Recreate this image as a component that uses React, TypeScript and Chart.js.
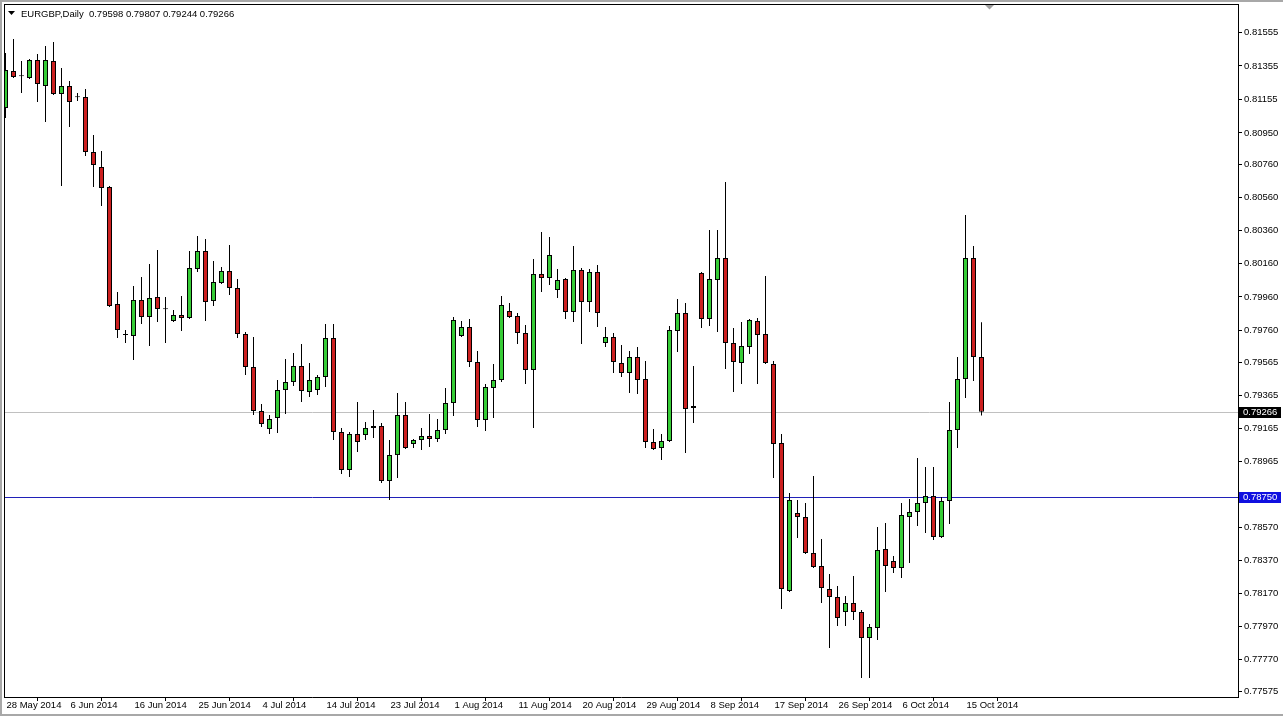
import React, { useEffect, useRef } from "react";
import { Chart, registerables } from "chart.js";

Chart.register(...registerables);

const SYMBOL = "EURGBP,Daily";

const OPEN = [
  0.81101, 0.81324, 0.81294, 0.81282, 0.81391, 0.81234, 0.81385, 0.81186, 0.81234, 0.81167,
  0.81167, 0.80835, 0.80745, 0.80624, 0.79917, 0.7973, 0.79724, 0.79942, 0.79839, 0.7996,
  0.79887, 0.79815, 0.79851, 0.79833, 0.80129, 0.80237, 0.79935, 0.80044, 0.80117, 0.80014,
  0.79736, 0.79537, 0.79271, 0.79162, 0.79229, 0.79398, 0.79446, 0.79543, 0.79386, 0.79398,
  0.79477, 0.79712, 0.79144, 0.78915, 0.79132, 0.79126, 0.79169, 0.79181, 0.78848, 0.79005,
  0.79247, 0.79072, 0.79096, 0.7912, 0.79102, 0.79156, 0.79319, 0.79724, 0.79778, 0.79567,
  0.79217, 0.7941, 0.79458, 0.79875, 0.79845, 0.79742, 0.79519, 0.80099, 0.80074, 0.80002,
  0.80068, 0.79869, 0.80123, 0.79929, 0.80111, 0.79682, 0.79718, 0.79561, 0.79501, 0.79597,
  0.79464, 0.79084, 0.79048, 0.7909, 0.79754, 0.79863, 0.79289, 0.80105, 0.79827, 0.80062,
  0.80195, 0.79682, 0.79561, 0.79658, 0.79815, 0.79736, 0.79555, 0.79078, 0.78184, 0.78655,
  0.78631, 0.78414, 0.78335, 0.78196, 0.78148, 0.78057, 0.78112, 0.78057, 0.779, 0.77961,
  0.78438, 0.78365, 0.78323, 0.78631, 0.78661, 0.78716, 0.78758, 0.7851, 0.78728, 0.79156,
  0.79464, 0.80195, 0.79598,
];

const HIGH = [
  0.81433, 0.81518, 0.81385, 0.81397, 0.81427, 0.81475, 0.815, 0.81343, 0.81264, 0.81192,
  0.81216, 0.80938, 0.80841, 0.8063, 0.7999, 0.7976, 0.80026, 0.8008, 0.80159, 0.80243,
  0.7996, 0.79881, 0.79966, 0.80237, 0.80328, 0.8031, 0.80177, 0.80141, 0.80274, 0.80068,
  0.79748, 0.79718, 0.79313, 0.79247, 0.79458, 0.79585, 0.79621, 0.79676, 0.79561, 0.79489,
  0.79797, 0.79797, 0.79169, 0.79144, 0.79326, 0.79205, 0.79277, 0.79199, 0.79096, 0.7938,
  0.79326, 0.79102, 0.79169, 0.79253, 0.79223, 0.7941, 0.79839, 0.79815, 0.79827, 0.79634,
  0.79434, 0.79555, 0.79966, 0.79923, 0.79863, 0.79791, 0.80189, 0.80352, 0.80322, 0.80129,
  0.80074, 0.80268, 0.80135, 0.80129, 0.80153, 0.79778, 0.79742, 0.7967, 0.79634, 0.79658,
  0.79573, 0.79162, 0.79132, 0.79784, 0.79948, 0.79923, 0.79543, 0.80111, 0.80364, 0.80364,
  0.80654, 0.79772, 0.79809, 0.79827, 0.79833, 0.80086, 0.79573, 0.79132, 0.78776, 0.78734,
  0.78716, 0.78879, 0.78498, 0.78287, 0.78214, 0.78154, 0.78275, 0.78069, 0.77985, 0.78571,
  0.78595, 0.78396, 0.78716, 0.7874, 0.78987, 0.78933, 0.78933, 0.78752, 0.79326, 0.79597,
  0.80455, 0.80268, 0.79807,
];

const LOW = [
  0.81041, 0.81282, 0.81192, 0.81276, 0.81137, 0.81016, 0.8118, 0.8063, 0.80986, 0.81143,
  0.80811, 0.80624, 0.80509, 0.79899, 0.79712, 0.79682, 0.79579, 0.79797, 0.79664, 0.79809,
  0.79682, 0.79809, 0.79754, 0.79827, 0.80111, 0.79815, 0.79905, 0.80038, 0.79972, 0.79712,
  0.79489, 0.79247, 0.79175, 0.79132, 0.79138, 0.79253, 0.79422, 0.79326, 0.79356, 0.79368,
  0.79416, 0.79096, 0.78891, 0.78873, 0.79024, 0.79096, 0.79108, 0.78836, 0.78734, 0.78867,
  0.79042, 0.79048, 0.79036, 0.79054, 0.79084, 0.79132, 0.79241, 0.79718, 0.79537, 0.79175,
  0.7915, 0.79229, 0.79446, 0.79833, 0.79676, 0.79434, 0.79169, 0.7999, 0.80032, 0.79954,
  0.79827, 0.79809, 0.79676, 0.79869, 0.79778, 0.79658, 0.79501, 0.79477, 0.7938, 0.79374,
  0.79048, 0.79036, 0.78975, 0.79084, 0.79627, 0.79018, 0.79199, 0.79772, 0.79784, 0.79748,
  0.79525, 0.79386, 0.79434, 0.79615, 0.79434, 0.79555, 0.78867, 0.78075, 0.78178, 0.78504,
  0.78408, 0.78323, 0.78112, 0.7784, 0.77973, 0.77973, 0.78009, 0.77659, 0.77659, 0.77888,
  0.78178, 0.78293, 0.78263, 0.78353, 0.78577, 0.78534, 0.78492, 0.78504, 0.78589, 0.79048,
  0.7935, 0.79452, 0.79244,
];

const CLOSE = [
  0.8133, 0.81288, 0.81292, 0.81391, 0.81246, 0.81391, 0.81186, 0.81234, 0.81137, 0.81166,
  0.80835, 0.80757, 0.80618, 0.79905, 0.7976, 0.79731, 0.79942, 0.79839, 0.79954, 0.79887,
  0.79886, 0.79851, 0.79833, 0.80135, 0.80237, 0.79929, 0.8005, 0.80117, 0.80014, 0.79736,
  0.79537, 0.79271, 0.79193, 0.79223, 0.79398, 0.79446, 0.79543, 0.79392, 0.79458, 0.79477,
  0.79712, 0.79144, 0.78915, 0.79132, 0.79084, 0.79169, 0.79181, 0.78848, 0.79005, 0.79247,
  0.79048, 0.79096, 0.7912, 0.79102, 0.79156, 0.79319, 0.79821, 0.79778, 0.79567, 0.79217,
  0.79416, 0.79458, 0.79911, 0.79839, 0.79742, 0.79519, 0.80099, 0.80074, 0.80213, 0.80062,
  0.79869, 0.80123, 0.79929, 0.80111, 0.79863, 0.79718, 0.79567, 0.79501, 0.79597, 0.79458,
  0.79084, 0.79042, 0.7909, 0.7976, 0.79863, 0.79283, 0.79301, 0.79827, 0.80068, 0.80195,
  0.79682, 0.79567, 0.79664, 0.79821, 0.7973, 0.79561, 0.79072, 0.78196, 0.78734, 0.78631,
  0.78414, 0.78329, 0.78202, 0.78148, 0.78021, 0.78112, 0.78057, 0.779, 0.77967, 0.78432,
  0.78335, 0.78323, 0.78643, 0.78661, 0.78716, 0.78758, 0.7851, 0.78728, 0.79156, 0.79464,
  0.80195, 0.79597, 0.79266,
];

const DATE_TICK_INDEX = [0, 8, 16, 24, 32, 40, 48, 56, 64, 72, 80, 88, 96, 104, 112, 120];
const DATE_TICK_LABELS = [
  "28 May 2014", "6 Jun 2014", "16 Jun 2014", "25 Jun 2014", "4 Jul 2014", "14 Jul 2014",
  "23 Jul 2014", "1 Aug 2014", "11 Aug 2014", "20 Aug 2014", "29 Aug 2014", "8 Sep 2014",
  "17 Sep 2014", "26 Sep 2014", "6 Oct 2014", "15 Oct 2014",
];

const PRICE_TICKS = [
  0.81555, 0.81355, 0.81155, 0.8095, 0.8076, 0.8056, 0.8036, 0.8016, 0.7996, 0.7976,
  0.79565, 0.79365, 0.79165, 0.78965, 0.7857, 0.7837, 0.7817, 0.7797, 0.7777, 0.77575,
];

const LEVEL_LINES = [0.7875];

const X_MIN = -0.1875;
const X_MAX = 154.0625;
const Y_MIN = 0.77544;
const Y_MAX = 0.81729;

const FONT = { family: "'Liberation Sans', Arial, sans-serif", size: 9.5, lineHeight: 1 };
const FONT_CSS = "9.5px 'Liberation Sans', Arial, sans-serif";
const BULL = "#36cc36";
const BEAR = "#cc2020";

export default function App() {
  const ref = useRef<HTMLCanvasElement>(null);

  useEffect(() => {
    const canvas = ref.current;
    if (!canvas) return;
    const last = CLOSE.length - 1;
    const bodyColors = OPEN.map((o, i) => (CLOSE[i] >= o ? BULL : BEAR));

    const overlay = {
      id: "mt4overlay",
      beforeDraw(chart: any) {
        const ctx = chart.ctx;
        ctx.save();
        ctx.fillStyle = "#ffffff";
        ctx.fillRect(0, 0, chart.width, chart.height);
        ctx.restore();
      },
      beforeDatasetsDraw(chart: any) {
        const ctx = chart.ctx;
        const a = chart.chartArea;
        const ys = chart.scales.y;
        ctx.save();
        const yb = Math.round(ys.getPixelForValue(CLOSE[last])) + 0.5;
        ctx.strokeStyle = "#c0c0c0";
        ctx.lineWidth = 1;
        ctx.beginPath();
        ctx.moveTo(a.left, yb);
        ctx.lineTo(a.right, yb);
        ctx.stroke();
        ctx.strokeStyle = "#2020b8";
        LEVEL_LINES.forEach((v) => {
          const y = Math.round(ys.getPixelForValue(v)) + 0.5;
          ctx.beginPath();
          ctx.moveTo(a.left, y);
          ctx.lineTo(a.right, y);
          ctx.stroke();
        });
        ctx.restore();
      },
      afterDraw(chart: any) {
        const ctx = chart.ctx;
        const a = chart.chartArea;
        const ys = chart.scales.y;
        ctx.save();
        ctx.fillStyle = "#a8a8a8";
        ctx.fillRect(0, 0, chart.width, 2);
        ctx.fillRect(0, 0, 2, chart.height);
        ctx.fillRect(0, chart.height - 2, chart.width, 2);
        ctx.fillStyle = "#000000";
        ctx.fillRect(a.left, a.top, a.right - a.left + 1, 1);
        ctx.fillRect(a.left, a.top, 1, a.bottom - a.top + 1);
        ctx.fillStyle = "#a0a0a0";
        ctx.beginPath();
        ctx.moveTo(985, a.top + 1);
        ctx.lineTo(994, a.top + 1);
        ctx.lineTo(989.5, a.top + 5.5);
        ctx.closePath();
        ctx.fill();
        ctx.fillStyle = "#000000";
        ctx.beginPath();
        ctx.moveTo(8, 11);
        ctx.lineTo(15, 11);
        ctx.lineTo(11.5, 15);
        ctx.closePath();
        ctx.fill();
        ctx.font = FONT_CSS;
        ctx.textBaseline = "alphabetic";
        ctx.textAlign = "left";
        const ohlc = [OPEN[last], HIGH[last], LOW[last], CLOSE[last]].map((v) => v.toFixed(5)).join(" ");
        ctx.fillText(`${SYMBOL}  ${ohlc}`, 21, 16.5);
        const boxes = [
          { v: CLOSE[last], bg: "#000000" },
          ...LEVEL_LINES.map((v) => ({ v, bg: "#1010e0" })),
        ];
        boxes.forEach((b) => {
          const y = Math.round(ys.getPixelForValue(b.v));
          ctx.fillStyle = b.bg;
          ctx.fillRect(a.right + 1, y - 5, 42, 11);
          ctx.fillStyle = "#ffffff";
          ctx.textBaseline = "middle";
          ctx.fillText(b.v.toFixed(5), a.right + 5, y + 0.5);
        });
        ctx.restore();
      },
    };

    const chart = new Chart(canvas, {
      type: "bar",
      data: {
        datasets: [
          {
            label: "range",
            data: LOW.map((l, i) => ({ x: i, y: [l, HIGH[i]] })),
            backgroundColor: "#000000",
            borderWidth: 0,
            barThickness: 1,
            grouped: false,
            order: 2,
            clip: 0,
            inflateAmount: 0,
          } as any,
          {
            label: "body",
            data: OPEN.map((o, i) => ({ x: i, y: [o, CLOSE[i]] })),
            backgroundColor: bodyColors,
            borderColor: "#000000",
            borderWidth: 1,
            borderSkipped: false,
            barThickness: 5,
            minBarLength: 1,
            grouped: false,
            order: 1,
            clip: 0,
            inflateAmount: 0,
          } as any,
        ],
      },
      options: {
        responsive: false,
        maintainAspectRatio: false,
        animation: false,
        events: [],
        layout: { padding: { left: 4, top: 4, right: 0, bottom: 0 } },
        plugins: {
          legend: { display: false },
          tooltip: { enabled: false },
          title: { display: false },
        },
        scales: {
          x: {
            type: "linear",
            min: X_MIN,
            max: X_MAX,
            offset: false,
            afterBuildTicks: (s: any) => {
              s.ticks = DATE_TICK_INDEX.map((v) => ({ value: v }));
            },
            afterFit: (s: any) => {
              s.height = 19;
              s.paddingLeft = 0;
              s.paddingRight = 0;
            },
            ticks: {
              autoSkip: false,
              maxRotation: 0,
              minRotation: 0,
              align: "start",
              padding: 0,
              labelOffset: 1,
              color: "#000000",
              font: FONT,
              callback: (v: any) => {
                const k = DATE_TICK_INDEX.indexOf(Number(v));
                return k >= 0 ? DATE_TICK_LABELS[k] : "";
              },
            },
            grid: { display: true, drawOnChartArea: false, drawTicks: true, tickLength: 4, color: "#000000" },
            border: { display: true, color: "#000000", width: 1 },
          } as any,
          y: {
            type: "linear",
            position: "right",
            min: Y_MIN,
            max: Y_MAX,
            afterBuildTicks: (s: any) => {
              s.ticks = PRICE_TICKS.map((v) => ({ value: v }));
            },
            afterFit: (s: any) => {
              s.width = 45;
              s.paddingTop = 0;
              s.paddingBottom = 0;
            },
            ticks: {
              padding: 2,
              color: "#000000",
              font: FONT,
              callback: (v: any) => Number(v).toFixed(5),
            },
            grid: { display: true, drawOnChartArea: false, drawTicks: true, tickLength: 4, color: "#000000" },
            border: { display: true, color: "#000000", width: 1 },
          } as any,
        },
      },
      plugins: [overlay],
    });

    return () => chart.destroy();
  }, []);

  return (
    <div style={{ position: "fixed", left: 0, top: 0, width: 1283, height: 716, background: "#ffffff" }}>
      <canvas ref={ref} width={1283} height={716} style={{ display: "block", width: 1283, height: 716 }} />
    </div>
  );
}
